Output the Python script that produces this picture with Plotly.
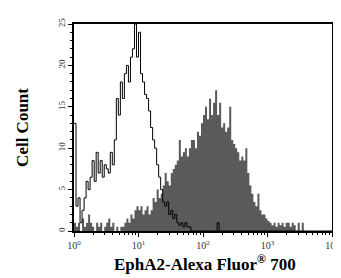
import numpy as np
import plotly.graph_objects as go

# 32 channels per decade, 4 decades (10^0 .. 10^4)
channels_per_decade = 32
n_bins = 128

# Open histogram (isotype/unstained control), counts per channel
control_counts = [
    13, 3, 4, 1, 2.5, 4, 6, 5, 6.5, 8.5, 6, 9.5, 7, 8.5, 6.5, 8,
    7.5, 7, 9.5, 8, 11, 16, 14, 18, 16, 19, 20, 18, 21, 22, 25, 21,
    24, 19, 18, 16.5, 16, 14.5, 12.5, 11, 10, 8, 6.5, 5, 3.5, 3, 3.5, 2,
    2.5, 1.5, 2, 1, 0.7, 1, 0.5, 1, 0.5, 0.5, 0, 0, 0, 0, 0, 0,
    0, 0, 0, 0, 0, 0, 0, 1, 0, 0, 0, 0, 0, 0, 0, 0,
]
# Filled histogram (EphA2 stained), counts per channel
stained_counts = [
    1, 0.5, 1, 0, 1.5, 0.5, 1, 2, 1, 0.5, 0, 1, 0.5, 1, 0, 0.5,
    1, 1.5, 0.5, 1, 0, 0.5, 0, 0.5, 0.5, 1, 1.5, 1, 2, 1.5, 2.5, 3,
    2.5, 3, 2, 2.5, 3, 2, 2.5, 4, 3.5, 5, 4, 4.5, 5.5, 7, 6, 5.5,
    7, 7.5, 8, 8.5, 11, 9, 9.5, 10, 9, 10, 11, 11, 10, 12, 11.5, 13,
    14, 15, 13.5, 16, 14, 15.5, 17, 14, 15.5, 12.5, 13, 12, 12.5, 15, 11, 10.5,
    10, 9.5, 8.5, 9, 8.5, 10, 7, 5.5, 4.5, 3.5, 3, 4.5, 2.5, 2, 2, 1.5,
    1.2, 1, 0.7, 1, 0.5, 1, 0.7, 1, 0.5, 1, 1, 0.5, 1, 0.7, 0, 1,
    0, 1,
]

x_tick_vals = [1, 10, 100, 1000, 10000]
x_tick_text = ["10<sup>0</sup>", "10<sup>1</sup>", "10<sup>2</sup>", "10<sup>3</sup>", "10<sup>4</sup>"]
y_tick_vals = [0, 5, 10, 15, 20, 25]


def pad(arr):
    a = list(arr) + [0] * (n_bins - len(arr))
    return np.array(a[:n_bins], dtype=float)


edges = 10 ** (np.arange(n_bins + 1) / channels_per_decade)


def step_xy(counts):
    c = pad(counts)
    return edges, np.append(c, c[-1])


fig = go.Figure()
sx, sy = step_xy(stained_counts)
fig.add_trace(go.Scatter(x=sx, y=sy, mode="lines", line=dict(shape="hv", width=0, color="#5a5a5a"),
                         fill="tozeroy", fillcolor="#5a5a5a", hoverinfo="skip", showlegend=False))
cx, cy = step_xy(control_counts)
fig.add_trace(go.Scatter(x=cx, y=cy, mode="lines", line=dict(shape="hv", width=1, color="black"),
                         hoverinfo="skip", showlegend=False))

minor_x = [k * 10 ** d for d in range(4) for k in range(2, 10)]

fig.update_layout(
    width=341, height=278,
    margin=dict(l=66, r=10, t=12, b=55),
    paper_bgcolor="white", plot_bgcolor="white",
    font=dict(family="Liberation Serif", color="black"),
    xaxis=dict(type="log", range=[0, 4], tickvals=x_tick_vals, ticktext=x_tick_text,
               ticks="outside", ticklen=4, tickcolor="black", tickwidth=1,
               showline=True, linecolor="black", linewidth=1.5, mirror=True,
               showgrid=False, zeroline=False, tickfont=dict(size=10, color="#333"),
               minor=dict(tickvals=minor_x, ticks="outside", ticklen=2, tickcolor="black", showgrid=False)),
    yaxis=dict(range=[0, 25], tickvals=y_tick_vals, ticks="outside", ticklen=4,
               tickcolor="black", tickwidth=1, tickangle=-90,
               showline=True, linecolor="black", linewidth=1.5, mirror=True,
               showgrid=False, zeroline=False, tickfont=dict(size=9, color="#333"),
               minor=dict(dtick=1, ticks="outside", ticklen=2, tickcolor="black", showgrid=False)),
    annotations=[
        dict(text="<b>Cell Count</b>", xref="paper", yref="paper", x=-0.2, y=0.5,
             xanchor="center", yanchor="middle",
             textangle=-90, showarrow=False, font=dict(size=17, family="Liberation Serif")),
        dict(text="<b>EphA2-Alexa Fluor<sup>®</sup> 700</b>", xref="paper", yref="paper",
             x=0.506, y=-0.155, xanchor="center", yanchor="middle",
             showarrow=False, font=dict(size=17, family="Liberation Serif")),
    ],
)

fig.write_html("out.html")
